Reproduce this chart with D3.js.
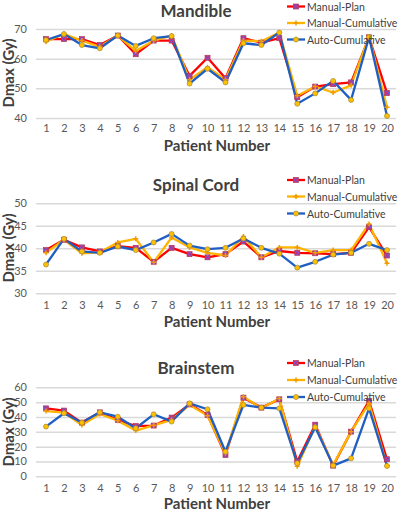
<!DOCTYPE html>
<html>
<head>
<meta charset="utf-8">
<script src="https://cdn.jsdelivr.net/npm/d3@7"></script>
<style>
  body { margin: 0; background: #fff; }
  text { font-family: Lato, "Open Sans", sans-serif; }
</style>
</head>
<body>
<svg id="chart" width="400" height="511"></svg>
<script>
let patients = d3.range(1, 21);
let seriesNames = ["Manual-Plan", "Manual-Cumulative", "Auto-Cumulative"];

// Mandible
let mandiblePlan = [66.6, 66.6, 66.6, 64.6, 67.8, 61.5, 66.1, 66.1, 54.2, 60.3, 53.4, 66.9, 65.4, 66.9, 47.0, 50.6, 51.4, 52.0, 67.2, 48.4];
let mandibleManCum = [65.7, 68.3, 66.1, 64.0, 67.8, 62.6, 66.1, 67.8, 52.9, 57.1, 52.9, 66.1, 65.9, 68.8, 47.5, 50.6, 48.6, 51.0, 67.4, 43.6];
let mandibleAutoCum = [66.3, 68.3, 64.6, 63.5, 67.8, 64.3, 66.9, 67.6, 51.6, 56.6, 52.0, 65.2, 64.6, 68.8, 44.8, 48.3, 52.5, 46.1, 67.2, 40.7];
let mandibleTicks = [40, 50, 60, 70];

// Spinal Cord
let spinalPlan = [39.6, 41.9, 40.2, 39.3, 40.5, 40.1, 37.0, 40.1, 38.7, 38.0, 38.7, 41.5, 38.0, 39.4, 39.0, 38.9, 38.7, 39.0, 44.7, 38.4];
let spinalManCum = [39.0, 41.9, 38.9, 39.1, 41.3, 42.1, 36.9, 42.4, 40.2, 39.0, 38.4, 42.6, 38.0, 40.2, 40.2, 39.0, 39.6, 39.6, 45.4, 36.7];
let spinalAutoCum = [36.4, 42.1, 39.3, 39.0, 40.4, 39.6, 41.3, 43.2, 40.6, 39.8, 40.1, 42.2, 40.1, 38.8, 35.7, 37.0, 38.6, 39.0, 41.0, 39.6];
let spinalTicks = [30, 35, 40, 45, 50];

// Brainstem
let brainPlan = [45.8, 44.3, 36.2, 43.1, 38.0, 33.9, 34.2, 39.6, 48.5, 41.3, 14.4, 53.0, 46.3, 51.9, 9.9, 34.8, 7.2, 30.1, 50.8, 11.5];
let brainManCum = [44.0, 42.9, 34.6, 42.0, 37.5, 30.8, 34.4, 38.0, 48.1, 40.9, 15.5, 53.7, 45.8, 52.4, 6.7, 33.5, 7.6, 30.1, 49.2, 7.0];
let brainAutoCum = [33.5, 42.5, 36.2, 43.1, 40.2, 32.4, 41.8, 36.9, 49.2, 45.2, 16.6, 48.1, 46.3, 45.8, 8.8, 33.0, 7.2, 12.1, 45.8, 7.0];
let brainTicks = [0, 10, 20, 30, 40, 50, 60];

let colors = ["#ff0000", "#ffb400", "#1f5fc4"];

let svg = d3.select("#chart");

let x = d3.scalePoint().domain(patients).range([46, 387]);

let drawMarker = (g, i, cx, cy) => {
    if (i === 0) {
        g.append("rect").attr("x", cx - 2.5).attr("y", cy - 2.5).attr("width", 5).attr("height", 5)
            .attr("fill", "#6b5bd6").attr("stroke", "#c0304a").attr("stroke-width", 0.7);
        g.append("path").attr("d", `M${cx-2},${cy-2}L${cx+2},${cy+2}M${cx-2},${cy+2}L${cx+2},${cy-2}`)
            .attr("stroke", "#e0206a").attr("stroke-width", 0.9);
    } else if (i === 1) {
        g.append("path").attr("d", `M${cx-2.5},${cy}L${cx+2.5},${cy}M${cx},${cy-2.5}L${cx},${cy+2.5}`)
            .attr("stroke", "#f29a00").attr("stroke-width", 1.5);
    } else {
        g.append("circle").attr("cx", cx).attr("cy", cy).attr("r", 2.5)
            .attr("fill", "#ffc000").attr("stroke", "#a08a3a").attr("stroke-width", 0.7);
    }
}

let drawPanel = (p) => {
    let g = svg.append("g");
    let y = d3.scaleLinear().domain([p.ticks[0], p.ticks[p.ticks.length - 1]]).range([p.bottom, p.top]);

    // gridlines + y labels
    let yAxis = g.append("g").attr("transform", "translate(36,0)")
        .call(d3.axisLeft(y).tickValues(p.ticks).tickSize(-360).tickPadding(9));
    yAxis.select(".domain").remove();
    yAxis.selectAll("line").attr("stroke", "#d9d9d9").attr("stroke-width", 1.5);
    yAxis.selectAll("text").attr("fill", "#595959").style("font-size", "11px").style("font-family", "Lato, sans-serif");

    // x labels
    let xAxis = g.append("g").attr("transform", `translate(0,${p.bottom})`)
        .call(d3.axisBottom(x).tickSize(0).tickPadding(p.xPad));
    xAxis.select(".domain").remove();
    xAxis.selectAll("text").attr("fill", "#595959").style("font-size", "11px").style("font-family", "Lato, sans-serif");

    let line = d3.line().x((d, i) => x(patients[i])).y(d => y(d));

    p.series.forEach((s, si) => {
        g.append("path").datum(s)
            .attr("d", line)
            .attr("fill", "none")
            .attr("stroke", colors[si])
            .attr("stroke-width", 2.3)
            .attr("stroke-linejoin", "round");
    });
    p.series.forEach((s, si) => {
        let mg = g.append("g");
        s.forEach((d, i) => drawMarker(mg, si, x(patients[i]), y(d)));
    });

    g.append("text").attr("x", 196).attr("y", p.titleY)
        .attr("text-anchor", "middle").attr("fill", "#404040")
        .style("font-size", "17px").style("font-weight", "bold").text(p.title);

    g.append("text").attr("x", 217).attr("y", p.xTitleY)
        .attr("text-anchor", "middle").attr("fill", "#404040")
        .style("font-size", "15px").style("font-weight", "bold").text("Patient Number");

    g.append("text").attr("transform", `translate(14,${p.yTitleY}) rotate(-90)`)
        .attr("text-anchor", "middle").attr("fill", "#404040")
        .style("font-size", "15px").style("font-weight", "bold").text("Dmax (Gy)");

    // legend
    seriesNames.forEach((name, i) => {
        let ly = p.legendY[i];
        let lg = g.append("g");
        lg.append("line").attr("x1", 287).attr("x2", 305).attr("y1", ly).attr("y2", ly)
            .attr("stroke", colors[i]).attr("stroke-width", 2.3);
        drawMarker(lg, i, 296, ly);
        lg.append("text").attr("x", 307).attr("y", ly + 4)
            .attr("fill", "#404040").style("font-size", "10.5px").text(name);
    });
}

drawPanel({
    title: "Mandible", ticks: mandibleTicks, top: 29, bottom: 118,
    series: [mandiblePlan, mandibleManCum, mandibleAutoCum],
    titleY: 17, xTitleY: 151, yTitleY: 73, xPad: 6,
    legendY: [6.5, 23, 39.5]
});

drawPanel({
    title: "Spinal Cord", ticks: spinalTicks, top: 203.3, bottom: 293.3,
    series: [spinalPlan, spinalManCum, spinalAutoCum],
    titleY: 191, xTitleY: 327, yTitleY: 248, xPad: 8,
    legendY: [180, 196.5, 213.5]
});

drawPanel({
    title: "Brainstem", ticks: brainTicks, top: 387.3, bottom: 476.3,
    series: [brainPlan, brainManCum, brainAutoCum],
    titleY: 374, xTitleY: 509, yTitleY: 432, xPad: 8,
    legendY: [363, 380, 397]
});
</script>
</body>
</html>
